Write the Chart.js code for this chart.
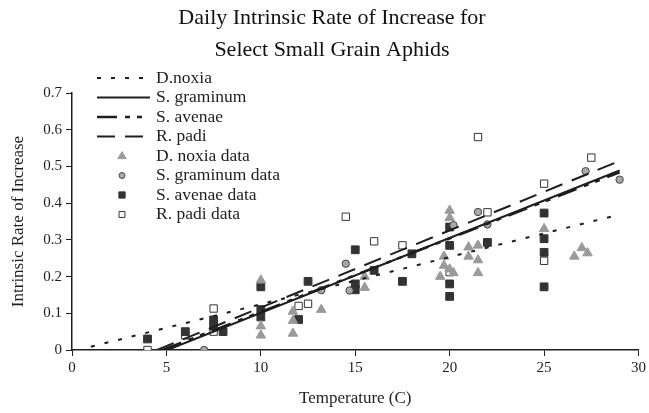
<!DOCTYPE html>
<html>
<head>
<meta charset="utf-8">
<script src="https://cdn.jsdelivr.net/npm/chart.js@4/dist/chart.umd.min.js"></script>
<style>
  html, body { margin: 0; padding: 0; background: #fff; }
  #wrap { width: 649px; height: 413px; }
</style>
</head>
<body>
<div id="wrap"><canvas id="chart" width="649" height="413"></canvas></div>
<script>
// ---- data ----
const chartTitle = ['Daily Intrinsic Rate of Increase for', 'Select Small Grain Aphids'];
const xTicks = [0, 5, 10, 15, 20, 25, 30];
const yTicks = [0, 0.1, 0.2, 0.3, 0.4, 0.5, 0.6, 0.7];

// fitted model lines (end points)
const noxiaFitX    = [1, 29];
const noxiaFitY    = [0.009, 0.369];
const graminumFitX = [5.05, 29];
const graminumFitY = [0, 0.489];
const avenaeFitX   = [4.8, 29];
const avenaeFitY   = [0, 0.484];
const padiFitX     = [4.5, 29];
const padiFitY     = [0, 0.515];

// observed data
const noxiaX = [10, 10, 10, 11.7, 11.7, 11.7, 13.2, 15.5, 15.5, 19.5, 19.7, 19.7, 20, 20, 20, 20.2, 21, 21, 21.5, 21.5, 21.5, 25, 26.6, 27, 27.3];
const noxiaY = [0.19, 0.065, 0.04, 0.105, 0.08, 0.045, 0.11, 0.2, 0.17, 0.2, 0.255, 0.23, 0.38, 0.36, 0.22, 0.21, 0.28, 0.255, 0.285, 0.245, 0.21, 0.33, 0.255, 0.278, 0.264];

const graminumX = [7, 13.2, 14.5, 14.7, 20.2, 21.5, 22, 27.2, 29];
const graminumY = [0, 0.163, 0.235, 0.162, 0.34, 0.376, 0.342, 0.487, 0.464];

const avenaeX = [4, 6, 7.5, 7.5, 8, 10, 10, 10, 12, 12.5, 15, 15, 15, 16, 17.5, 18, 20, 20, 20, 20, 22, 25, 25, 25, 25];
const avenaeY = [0.03, 0.05, 0.082, 0.065, 0.05, 0.172, 0.11, 0.09, 0.083, 0.187, 0.273, 0.18, 0.164, 0.217, 0.187, 0.262, 0.335, 0.285, 0.18, 0.146, 0.293, 0.373, 0.303, 0.266, 0.172];

const padiX = [4, 6, 7.5, 7.5, 12, 12.5, 14.5, 16, 17.5, 20, 21.5, 22, 25, 25, 27.5];
const padiY = [0, 0.04, 0.113, 0.05, 0.12, 0.126, 0.363, 0.296, 0.285, 0.212, 0.58, 0.375, 0.453, 0.243, 0.524];

const SERIF = '"Liberation Serif", "DejaVu Serif", serif';
const INK   = '#1e1e1e';

const pts = (xs, ys) => xs.map((x, i) => ({ x, y: ys[i] }));

function fitLine(label, xs, ys, dash, width) {
  return {
    label, data: pts(xs, ys), showLine: true,
    borderColor: INK, borderWidth: width, borderDash: dash,
    pointRadius: 0, pointHoverRadius: 0, fill: false,
  };
}

function markers(label, xs, ys, style, radius, fillCol, edgeCol) {
  return {
    label, data: pts(xs, ys), showLine: false,
    pointStyle: style, pointRadius: radius, pointHoverRadius: radius,
    pointBackgroundColor: fillCol, pointBorderColor: edgeCol, pointBorderWidth: 1,
  };
}

const datasets = [
  fitLine('D.noxia',     noxiaFitX,    noxiaFitY,    [4, 10], 2),
  fitLine('S. graminum', graminumFitX, graminumFitY, [], 2),
  fitLine('S. avenae',   avenaeFitX,   avenaeFitY,   [20, 8, 5, 7, 5, 8], 2.5),
  fitLine('R. padi',     padiFitX,     padiFitY,     [18, 10], 2),
  markers('D. noxia data',    noxiaX,    noxiaY,    'triangle', 5.5, '#9a9a9a', '#9a9a9a'),
  markers('S. graminum data', graminumX, graminumY, 'circle',   3.7, '#a8a8a8', '#444'),
  markers('S. avenae data',   avenaeX,   avenaeY,   'rect',     5.5, '#333',    '#333'),
  markers('R. padi data',     padiX,     padiY,     'rect',     5.2, '#fff',    '#333'),
];

//  TITLE + LEGEND (drawn where the original puts them)
const overlayPlugin = {
  id: 'aphidOverlay',
  afterDraw(chart) {
    const ctx = chart.ctx;
    ctx.save();

    ctx.fillStyle = '#111';
    ctx.textAlign = 'center';
    ctx.textBaseline = 'middle';
    ctx.font = `22px ${SERIF}`;
    chartTitle.forEach((t, i) => ctx.fillText(t, 332, 18 + i * 32));

    ctx.textAlign = 'left';
    ctx.font = `17.5px ${SERIF}`;
    chart.data.datasets.forEach((ds, i) => {
      const y = 78 + i * 19.5;
      if (ds.showLine) {
        ctx.beginPath();
        ctx.setLineDash(ds.borderDash);
        ctx.lineWidth = ds.borderWidth;
        ctx.strokeStyle = ds.borderColor;
        ctx.moveTo(97, y);
        ctx.lineTo(150, y);
        ctx.stroke();
        ctx.setLineDash([]);
      } else {
        ctx.fillStyle = ds.pointBackgroundColor;
        ctx.strokeStyle = ds.pointBorderColor;
        ctx.lineWidth = 1;
        ctx.beginPath();
        drawShape(ctx, ds.pointStyle, 122, y, ds.pointRadius * 0.8);
        ctx.fill();
        ctx.stroke();
      }
      ctx.fillStyle = INK;
      ctx.fillText(ds.label, 156, y);
    });
    ctx.restore();
  },
};

function drawShape(ctx, style, x, y, r) {
  if (style === 'circle') {
    ctx.arc(x, y, r, 0, Math.PI * 2);
  } else if (style === 'rect') {
    const s = r * Math.SQRT1_2;
    ctx.rect(x - s, y - s, 2 * s, 2 * s);
  } else {
    ctx.moveTo(x, y - r);
    ctx.lineTo(x + r * 0.95, y + r * 0.6);
    ctx.lineTo(x - r * 0.95, y + r * 0.6);
    ctx.closePath();
  }
}

new Chart(document.getElementById('chart'), {
  type: 'scatter',
  data: { datasets },
  plugins: [overlayPlugin],
  options: {
    responsive: false,
    animation: false,
    events: [],
    layout: { padding: { left: 8, right: 9, top: 93, bottom: 0 } },
    plugins: {
      legend:  { display: false },
      tooltip: { enabled: false },
      title:   { display: false },
    },
    scales: {
      x: {
        type: 'linear', min: 0, max: 30,
        afterFit: s => { s.height = 63; },
        afterBuildTicks: s => { s.ticks = xTicks.map(v => ({ value: v })); },
        grid: { drawOnChartArea: false, tickLength: 6, color: INK, tickColor: INK },
        border: { color: INK, width: 1.5 },
        ticks: { color: INK, padding: 3, font: { family: SERIF, size: 15 } },
        title: {
          display: true, text: 'Temperature (C)', color: INK,
          font: { family: SERIF, size: 17 }, padding: { top: 0, bottom: 4 },
        },
      },
      y: {
        type: 'linear', min: 0, max: 0.7,
        afterFit: s => { s.width = 64; },
        afterBuildTicks: s => { s.ticks = yTicks.map(v => ({ value: v })); },
        grid: { drawOnChartArea: false, tickLength: 6, color: INK, tickColor: INK },
        border: { color: INK, width: 1.5 },
        ticks: { color: INK, padding: 4, font: { family: SERIF, size: 15 },
                 callback: v => String(+v.toFixed(1)) },
        title: {
          display: true, text: 'Intrinsic Rate of Increase', color: INK,
          font: { family: SERIF, size: 17, lineHeight: 1 }, padding: { top: 2, bottom: 0 },
        },
      },
    },
  },
});
</script>
</body>
</html>
